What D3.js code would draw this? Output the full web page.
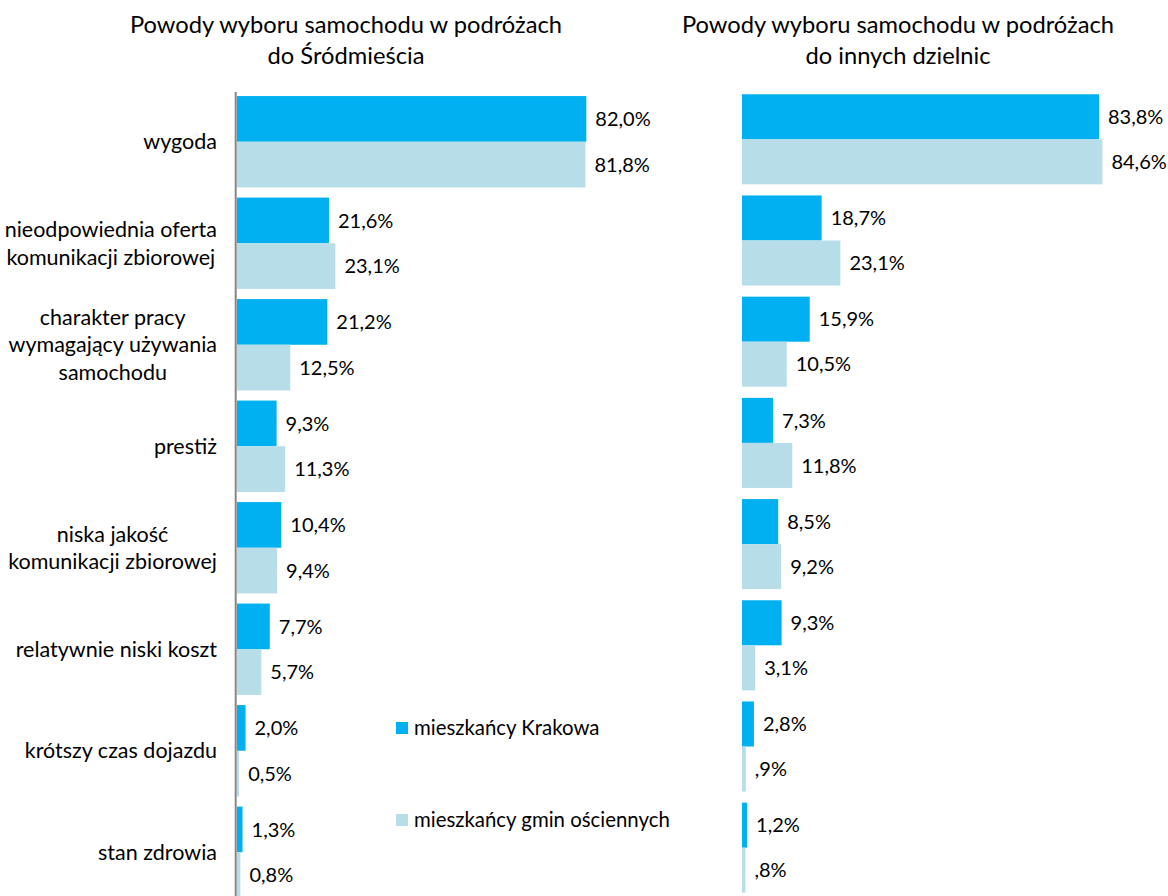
<!DOCTYPE html>
<html>
<head>
<meta charset="utf-8">
<script src="https://cdn.jsdelivr.net/npm/d3@7"></script>
<style>
  html, body { margin: 0; padding: 0; background: #fff; }
  svg { display: block; }
  text { font-family: Lato, "Open Sans", sans-serif; fill: #000; }
</style>
</head>
<body>
<svg id="chart" width="1168" height="896"></svg>
<script>
// Reasons for choosing the car, by destination and by place of residence
const categories = [
  "wygoda",
  "nieodpowiednia oferta\nkomunikacji zbiorowej",
  "charakter pracy\nwymagający używania\nsamochodu",
  "prestiż",
  "niska jakość\nkomunikacji zbiorowej",
  "relatywnie niski koszt",
  "krótszy czas dojazdu",
  "stan zdrowia"
];
const seriesNames = ["mieszkańcy Krakowa", "mieszkańcy gmin ościennych"];

// Trips to Śródmieście
const centreKrakow = [82.0, 21.6, 21.2, 9.3, 10.4, 7.7, 2.0, 1.3];
const centreSuburbs = [81.8, 23.1, 12.5, 11.3, 9.4, 5.7, 0.5, 0.8];

// Trips to other districts
const otherKrakow = [83.8, 18.7, 15.9, 7.3, 8.5, 9.3, 2.8, 1.2];
const otherSuburbs = [84.6, 23.1, 10.5, 11.8, 9.2, 3.1, 0.9, 0.8];

const titleCentre = ["Powody wyboru samochodu w podróżach", "do Śródmieścia"];
const titleOther = ["Powody wyboru samochodu w podróżach", "do innych dzielnic"];

const colors = ["#00B0F0", "#B7DEE8"];

const svg = d3.select("#chart");

// Number formatting: comma decimal; the second panel drops the leading zero
function fmt(leadingZero) {
  return v => {
    let s = v.toFixed(1).replace(".", ",");
    if (!leadingZero && v < 1) s = s.replace(/^0/, "");
    return s + "%";
  };
}

function panel(opts) {
  const x = d3.scaleLinear().domain([0, 100]).range([opts.x0, opts.x0 + 426]);
  const y = d3.scaleBand().domain(categories).range(opts.yRange)
    .paddingInner(opts.pad).paddingOuter(opts.pad / 2);
  const sub = d3.scaleBand().domain([0, 1]).range([0, y.bandwidth()]);
  const g = svg.append("g");
  const f = fmt(opts.leadingZero);

  [opts.a, opts.b].forEach((vals, si) => {
    g.selectAll(null).data(vals).join("rect")
      .attr("x", x(0))
      .attr("y", (d, i) => y(categories[i]) + sub(si))
      .attr("width", d => x(d) - x(0))
      .attr("height", sub.bandwidth())
      .attr("fill", colors[si]);
    g.selectAll(null).data(vals).join("text")
      .attr("x", d => x(d) + 9)
      .attr("y", (d, i) => y(categories[i]) + sub(si) + sub.bandwidth() / 2)
      .attr("dy", "0.36em")
      .attr("font-size", 20)
      .text(d => f(d));
  });

  // Title
  const t = g.append("text").attr("text-anchor", "middle").attr("font-size", 23.7);
  opts.title.forEach((line, i) => {
    t.append("tspan").attr("x", opts.titleX).attr("y", 33 + i * 31).text(line);
  });
  return { x, y };
}

const left = panel({
  x0: 237, yRange: [91, 903], pad: 0.1, a: centreKrakow, b: centreSuburbs,
  leadingZero: true, title: titleCentre, titleX: 346
});
panel({
  x0: 742, yRange: [88.7, 898.3], pad: 0.11, a: otherKrakow, b: otherSuburbs,
  leadingZero: false, title: titleOther, titleX: 898
});

// Category axis line of the first panel
svg.append("line")
  .attr("x1", 235.7).attr("x2", 235.7)
  .attr("y1", 92).attr("y2", 896)
  .attr("stroke", "#868686").attr("stroke-width", 2);

// Category labels: block right-aligned, lines centred within the block
const labelRight = 217, lineH = 27.5;
categories.forEach(c => {
  const lines = c.split("\n");
  const grp = svg.append("g");
  const texts = lines.map(l => grp.append("text").attr("font-size", 21.5).attr("text-anchor", "middle").text(l));
  const w = d3.max(texts, t => t.node().getComputedTextLength());
  const cy = left.y(c) + left.y.bandwidth() / 2;
  texts.forEach((t, i) => {
    t.attr("x", labelRight - w / 2)
     .attr("y", cy + (i - (lines.length - 1) / 2) * lineH)
     .attr("dy", "0.36em");
  });
});

// Legend
const legend = svg.append("g");
seriesNames.forEach((name, i) => {
  legend.append("rect").attr("x", 396).attr("y", 722 + i * 92)
    .attr("width", 12).attr("height", 12).attr("fill", colors[i]);
  legend.append("text").attr("x", 414).attr("y", 728 + i * 92)
    .attr("dy", "0.36em").attr("font-size", 20.4).text(name);
});
</script>
</body>
</html>
